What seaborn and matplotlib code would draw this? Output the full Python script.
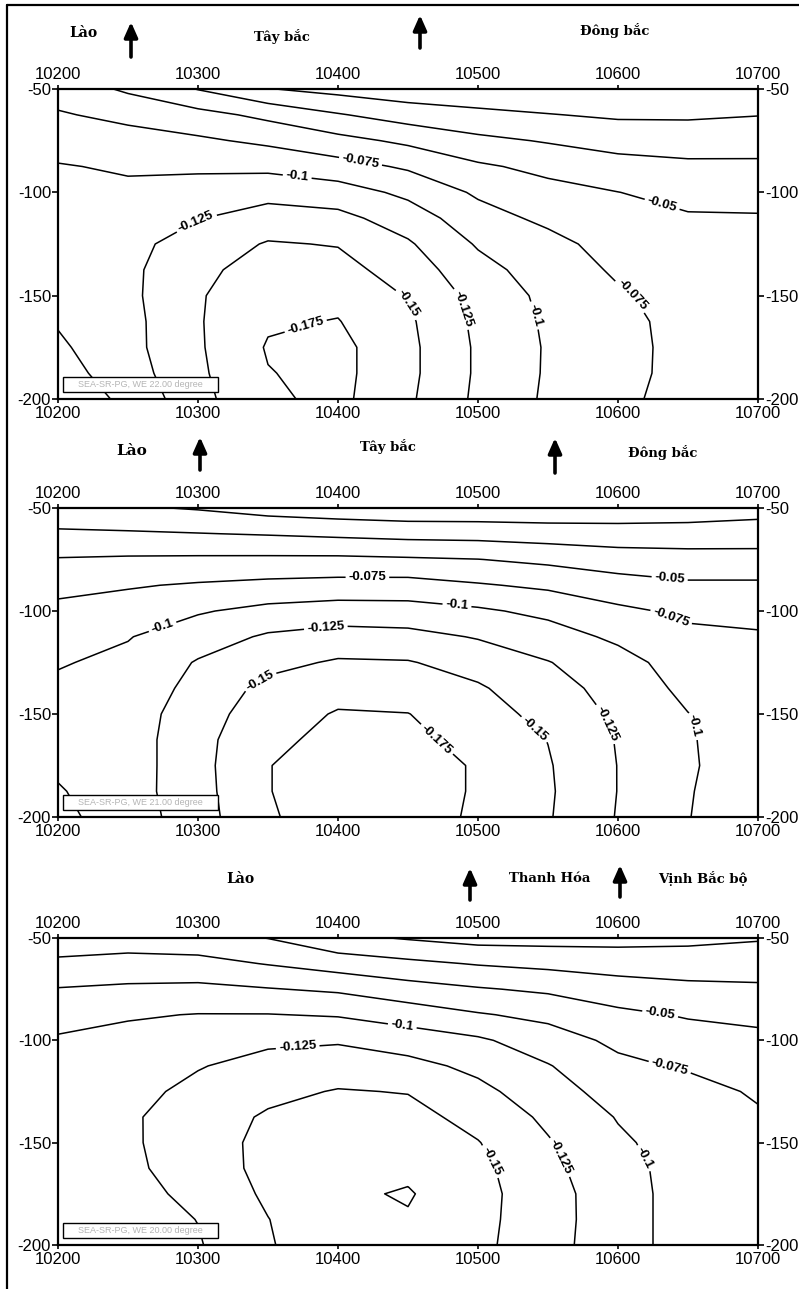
import numpy as np
import matplotlib
matplotlib.use("Agg")
import matplotlib.pyplot as plt
import seaborn as sns
from matplotlib.patches import Rectangle
from matplotlib.lines import Line2D

# ---------------- data ----------------
lon = [10200, 10250, 10300, 10350, 10400, 10450, 10500, 10550, 10600, 10650, 10700]
depth = [-50, -62.5, -75, -87.5, -100, -112.5, -125, -137.5, -150, -162.5, -175, -187.5, -200]
levels = [-0.175, -0.15, -0.125, -0.1, -0.075, -0.05, -0.025, 0.0]
x_ticks = [10200, 10300, 10400, 10500, 10600, 10700]
y_ticks = [-50, -100, -150, -200]

# field values, one list per longitude column (top -> bottom in depth)
field_22 = [
    [-0.065, -0.0772, -0.0895, -0.1016, -0.107, -0.111, -0.113, -0.112, -0.108, -0.102, -0.096, -0.090, -0.085],
    [-0.046, -0.069, -0.084, -0.097, -0.105, -0.112, -0.118, -0.119, -0.119, -0.117, -0.117, -0.113, -0.105],
    [-0.024, -0.058, -0.079, -0.096, -0.110, -0.124, -0.136, -0.1455, -0.148, -0.148, -0.147, -0.1455, -0.1425],
    [-0.001, -0.044, -0.070, -0.094, -0.117, -0.1355, -0.152, -0.158, -0.165, -0.172, -0.177, -0.174, -0.171],
    [0.008, -0.027, -0.0577, -0.0847, -0.1115, -0.132, -0.1487, -0.159, -0.1687, -0.176, -0.182, -0.182, -0.181],
    [0.015, -0.0135, -0.045, -0.0715, -0.0943, -0.113, -0.128, -0.138, -0.1485, -0.154, -0.156, -0.156, -0.154],
    [0.017, -0.006, -0.031, -0.0537, -0.0712, -0.085, -0.0975, -0.1085, -0.1164, -0.1195, -0.1214, -0.1214, -0.120],
    [0.020, -0.001, -0.023, -0.0434, -0.0578, -0.0694, -0.083, -0.088, -0.0939, -0.0963, -0.0976, -0.0973, -0.0962],
    [0.020, 0.0035, -0.016, -0.0337, -0.0503, -0.057, -0.0645, -0.0717, -0.0778, -0.0816, -0.082, -0.0816, -0.0797],
    [0.020, 0.0035, -0.014, -0.0297, -0.0424, -0.0525, -0.058, -0.062, -0.065, -0.067, -0.068, -0.068, -0.067],
    [0.018, 0.0007, -0.015, -0.0294, -0.0414, -0.052, -0.056, -0.059, -0.061, -0.062, -0.062, -0.062, -0.061],
]
field_21 = [
    [-0.008, -0.029, -0.0516, -0.0686, -0.0806, -0.0895, -0.0984, -0.104, -0.108, -0.108, -0.104, -0.098, -0.094],
    [-0.003, -0.0279, -0.0534, -0.0729, -0.0863, -0.0989, -0.105, -0.109, -0.112, -0.113, -0.113, -0.114, -0.112],
    [0.002, -0.0258, -0.0542, -0.0775, -0.0977, -0.1132, -0.127, -0.133, -0.1394, -0.142, -0.142, -0.141, -0.139],
    [0.0105, -0.0233, -0.0547, -0.0815, -0.1071, -0.1283, -0.143, -0.157, -0.163, -0.170, -0.1745, -0.1745, -0.1735],
    [0.015, -0.020, -0.055, -0.084, -0.1115, -0.1346, -0.1528, -0.166, -0.177, -0.181, -0.183, -0.183, -0.182],
    [0.018, -0.0168, -0.053, -0.0847, -0.110, -0.1326, -0.1516, -0.1636, -0.1755, -0.180, -0.182, -0.182, -0.181],
    [0.018, -0.0158, -0.0505, -0.0773, -0.1038, -0.1233, -0.140, -0.153, -0.161, -0.168, -0.1735, -0.1735, -0.173],
    [0.018, -0.0128, -0.0444, -0.0705, -0.0938, -0.1114, -0.126, -0.134, -0.142, -0.1495, -0.152, -0.153, -0.152],
    [0.017, -0.0113, -0.037, -0.0607, -0.0798, -0.095, -0.110, -0.1165, -0.1204, -0.1234, -0.1245, -0.1245, -0.1235],
    [0.016, -0.0123, -0.034, -0.054, -0.0705, -0.080, -0.087, -0.0935, -0.1005, -0.1015, -0.102, -0.101, -0.1005],
    [0.010, -0.0127, -0.034, -0.054, -0.0668, -0.078, -0.083, -0.087, -0.089, -0.090, -0.090, -0.090, -0.089],
]
field_20 = [
    [-0.034, -0.0555, -0.0762, -0.0904, -0.103, -0.108, -0.111, -0.112, -0.112, -0.111, -0.109, -0.107, -0.105],
    [-0.0375, -0.0588, -0.0794, -0.0977, -0.107, -0.113, -0.118, -0.1215, -0.1215, -0.120, -0.116, -0.114, -0.111],
    [-0.034, -0.058, -0.0808, -0.1008, -0.112, -0.1236, -0.131, -0.1379, -0.1377, -0.1367, -0.1318, -0.1255, -0.123],
    [-0.0245, -0.0487, -0.0763, -0.1008, -0.1206, -0.1333, -0.1438, -0.153, -0.157, -0.157, -0.154, -0.1495, -0.148],
    [-0.006, -0.0383, -0.0713, -0.098, -0.1225, -0.1377, -0.1515, -0.159, -0.164, -0.167, -0.171, -0.168, -0.166],
    [0.002, -0.0305, -0.060, -0.0884, -0.1133, -0.1326, -0.149, -0.158, -0.164, -0.170, -0.177, -0.173, -0.169],
    [0.009, -0.0233, -0.0521, -0.0771, -0.1038, -0.119, -0.1315, -0.142, -0.151, -0.1563, -0.158, -0.157, -0.156],
    [0.009, -0.0186, -0.0459, -0.0688, -0.0865, -0.1014, -0.1108, -0.1202, -0.127, -0.131, -0.1349, -0.1352, -0.134],
    [0.008, -0.0143, -0.0364, -0.0554, -0.0697, -0.0806, -0.0896, -0.0986, -0.1039, -0.1082, -0.110, -0.110, -0.110],
    [0.006, -0.0129, -0.031, -0.0479, -0.0604, -0.0722, -0.084, -0.087, -0.089, -0.090, -0.090, -0.090, -0.090],
    [0.002, -0.0135, -0.029, -0.0445, -0.0555, -0.0638, -0.072, -0.078, -0.081, -0.083, -0.084, -0.084, -0.084],
]

captions = ["SEA-SR-PG, WE 22.00 degree", "SEA-SR-PG, WE 21.00 degree", "SEA-SR-PG, WE 20.00 degree"]
region_names_1 = ["Lào", "Tây bắc", "Đông bắc"]
region_names_2 = ["Lào", "Tây bắc", "Đông bắc"]
region_names_3 = ["Lào", "Thanh Hóa", "Vịnh Bắc bộ"]

# ---------------- style ----------------
sns.set_theme(style="ticks")
plt.rcParams["font.family"] = ["Liberation Sans", "DejaVu Sans"]
plt.rcParams["axes.unicode_minus"] = False
plt.rcParams["contour.negative_linestyle"] = "solid"

W, H = 799, 1289
fig = plt.figure(figsize=(W / 100, H / 100), dpi=100)
fig.patch.set_facecolor("white")

# outer frame (top and left edges visible in the reference)
fig.add_artist(Line2D([7 / W, 7 / W], [0, 1 - 5 / H], transform=fig.transFigure, color="black", lw=1.6))
fig.add_artist(Line2D([7 / W, 1], [1 - 5 / H, 1 - 5 / H], transform=fig.transFigure, color="black", lw=1.6))

panels = [
    dict(field=field_22, top=89, bottom=399, caption=captions[0],
         names=region_names_1, name_pos=[(83, 33, 10), (282, 37, 9.5), (615, 31, 9.5)],
         arrows=[(131, 22, 57), (420, 15, 48)],
         label_pos=[(10416, -85.3), (10371, -91.6), (10632, -104.7), (10298, -113.4),
                    (10375, -160.3), (10451, -153.5), (10486, -156.9), (10537, -160.3),
                    (10609, -150.6)]),
    dict(field=field_21, top=508, bottom=817, caption=captions[1],
         names=region_names_2, name_pos=[(132, 451, 11), (388, 446, 9.5), (663, 452, 9.5)],
         arrows=[(200, 437, 470), (555, 438, 473)],
         label_pos=[(10421, -83.5), (10275, -108.3), (10391, -105.8), (10344, -133.5),
                    (10485, -97.1), (10637, -83.5), (10639, -101.0), (10475, -159.2),
                    (10542, -156.3), (10593, -154.4), (10651, -156.3)]),
    dict(field=field_20, top=938, bottom=1245, caption=captions[2],
         names=region_names_3, name_pos=[(240, 879, 10), (550, 878, 9.5), (703, 878, 9.5)],
         arrows=[(470, 868, 900), (620, 865, 897)],
         label_pos=[(10446, -92.5), (10371, -101.3), (10630, -87.6), (10637, -113.0),
                    (10511, -158.5), (10559, -157.0), (10616, -158.5)]),
]

left_px, right_px = 58, 758


def fmt(v):
    return f"{v:g}"


for p in panels:
    h = p["bottom"] - p["top"]
    ax = fig.add_axes([left_px / W, (H - p["bottom"]) / H, (right_px - left_px) / W, h / H])
    ax.set_facecolor("white")
    Z = np.array(p["field"]).T
    cs = ax.contour(lon, depth, Z, levels=levels, colors="black",
                    linewidths=1.1, linestyles="solid")
    texts = ax.clabel(cs, levels=levels[:-1], manual=p["label_pos"], fmt=fmt,
                      fontsize=9.5, inline=True, inline_spacing=3)
    for t in texts:
        t.set_fontweight("bold")
    ax.set_xlim(lon[0], lon[-1])
    ax.set_ylim(depth[-1], depth[0])
    ax.set_xticks(x_ticks)
    ax.set_yticks(y_ticks)
    ax.set_xticklabels([str(v) for v in x_ticks])
    ax.set_yticklabels([str(v) for v in y_ticks])
    for s in ax.spines.values():
        s.set_color("black")
        s.set_linewidth(1.6)
    ax.tick_params(axis="x", which="both", direction="out", length=3, width=1.2,
                   top=True, bottom=True, labeltop=True, labelbottom=True,
                   labelsize=12, colors="black", pad=2)
    ax.tick_params(axis="y", which="both", direction="out", length=4, width=1.2,
                   left=True, right=True, labelleft=True, labelright=True,
                   labelsize=12, colors="black", pad=1)
    ax.grid(False)

    # caption box
    rect = Rectangle((5 / 700, 7 / h), 155 / 700, 15 / h, transform=ax.transAxes,
                     facecolor="white", edgecolor="black", lw=1.0, zorder=5)
    ax.add_patch(rect)
    ax.text((5 + 77.5) / 700, (7 + 7.5) / h, p["caption"], transform=ax.transAxes,
            ha="center", va="center", fontsize=6.5, color="#b5b5b5", zorder=6)

    # region names above the panel
    for name, (x, y, fs) in zip(p["names"], p["name_pos"]):
        fig.text(x / W, 1 - y / H, name, ha="center", va="center", fontsize=fs,
                 fontweight="bold", family=["DejaVu Serif"], color="black")

    # boundary arrows
    for (x, ytop, ybot) in p["arrows"]:
        ax.annotate("", xy=(x, H - ytop), xytext=(x, H - ybot),
                    xycoords="figure pixels", textcoords="figure pixels",
                    arrowprops=dict(arrowstyle="-|>,head_length=0.9,head_width=0.4",
                                    lw=2.6, color="black", shrinkA=0, shrinkB=0,
                                    mutation_scale=10),
                    annotation_clip=False)

fig.savefig("out.png", dpi=100, facecolor="white")
